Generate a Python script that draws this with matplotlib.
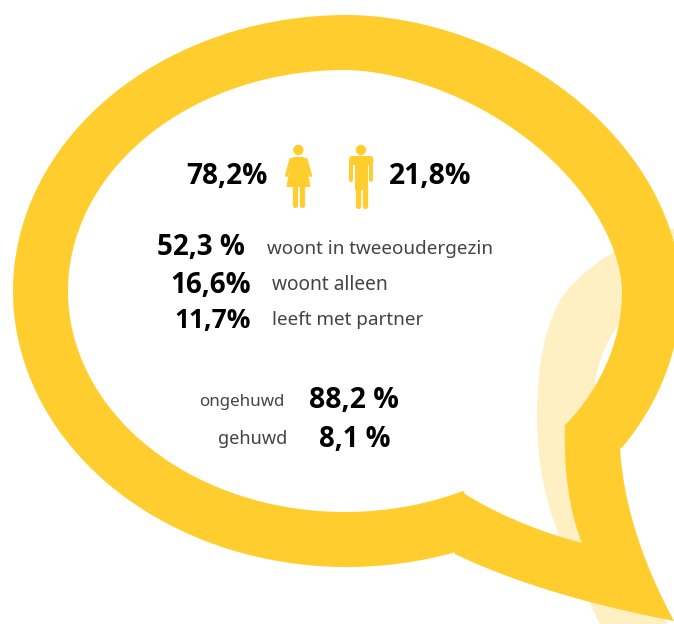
import numpy as np
import matplotlib
matplotlib.use("Agg")
import matplotlib.pyplot as plt
from matplotlib.patches import Polygon, Circle, PathPatch, FancyBboxPatch, Rectangle
from matplotlib.path import Path

# ---- content ----
gender_values = ["78,2%", "21,8%"]
household_values = ["52,3 %", "16,6%", "11,7%"]
household_labels = ["woont in tweeoudergezin", "woont alleen", "leeft met partner"]
marital_labels = ["ongehuwd", "gehuwd"]
marital_values = ["88,2 %", "8,1 %"]

YELLOW = "#FFCE2E"
PALE = "#FFF0C4"
BOLD = dict(family="Open Sans", fontweight="bold", color="black", va="baseline")
LIGHT = dict(family="Noto Sans", color="#444444", va="baseline")


def arc(cx, cy, rx, ry, p_ur, start, end, n=400):
    """Bubble outline from point start, clockwise on screen, to point end.
    The upper right quadrant is slightly flatter (exponent p_ur)."""
    a0 = np.arctan2((start[1] - cy) / ry, (start[0] - cx) / rx) % (2 * np.pi)
    a1 = np.arctan2((end[1] - cy) / ry, (end[0] - cx) / rx) % (2 * np.pi) + 2 * np.pi
    th = np.linspace(a0, a1, n)
    c, s = np.cos(th), np.sin(th)
    p = np.where((c > 0) & (s < 0), p_ur, 2.0)
    x = cx + rx * np.sign(c) * np.abs(c) ** (2 / p)
    y = cy + ry * np.sign(s) * np.abs(s) ** (2 / p)
    return np.column_stack([x, y])


def bez(a, c, b, n=40):
    t = np.linspace(0, 1, n)[:, None]
    a, c, b = map(np.array, (a, c, b))
    return (1 - t) ** 2 * a + 2 * t * (1 - t) * c + t ** 2 * b


outer = np.vstack([arc(347, 291, 334, 276, 1.87, (455, 554), (620, 448)),
                   bez((620, 448), (625, 530), (674, 621)),
                   bez((674, 621), (540, 595), (455, 554))])
inner = np.vstack([arc(345, 291, 277, 221, 1.75, (465, 494), (565, 427)),
                   bez((565, 427), (563, 495), (582, 543)),
                   bez((582, 543), (515, 525), (465, 494))])

# pale shadow of the tail behind the bubble
pale = np.vstack([bez((680, 227), (600, 245), (560, 300)),
                  bez((560, 300), (538, 340), (537, 410)),
                  bez((537, 410), (536, 480), (560, 537)),
                  bez((560, 537), (578, 580), (603, 630)),
                  bez((670, 630), (620, 520), (595, 383)),
                  bez((595, 383), (600, 345), (630, 310))])

fig = plt.figure(figsize=(6.74, 6.24), dpi=100)
ax = fig.add_axes([0, 0, 1, 1])
ax.set_xlim(0, 674)
ax.set_ylim(624, 0)
ax.axis("off")

ax.add_patch(Polygon(pale, closed=True, fc=PALE, ec="none", zorder=1))
ring = Path(np.vstack([outer, outer[0], inner[::-1], inner[-1]]),
            [Path.MOVETO] + [Path.LINETO] * (len(outer) - 1) + [Path.CLOSEPOLY]
            + [Path.MOVETO] + [Path.LINETO] * (len(inner) - 1) + [Path.CLOSEPOLY])
ax.add_patch(PathPatch(ring, fc=YELLOW, ec="none", zorder=2))


def limb(x0, y0, x1, y1, w):
    ax.plot([x0, x1], [y0, y1], color=YELLOW, lw=w * 0.72, solid_capstyle="round", zorder=3)


# woman icon
ax.add_patch(Circle((298.3, 150), 5.2, fc=YELLOW, ec="none", zorder=3))
ax.add_patch(Polygon([(293, 157), (304, 157), (306, 160), (310.5, 187), (286.5, 187), (291, 160)],
                     closed=True, fc=YELLOW, ec="none", zorder=3))
limb(291, 159.5, 286.5, 175.5, 3.2)
limb(306, 159.5, 310.5, 175.5, 3.2)
limb(294.8, 186, 294.8, 205, 5.2)
limb(302, 186, 302, 205, 5.2)

# man icon
ax.add_patch(Circle((361, 150), 5.2, fc=YELLOW, ec="none", zorder=3))
ax.add_patch(FancyBboxPatch((349.3, 156), 24, 9, boxstyle="round,pad=0,rounding_size=3.5",
                            fc=YELLOW, ec="none", zorder=3))
ax.add_patch(Rectangle((355, 158), 13, 32, fc=YELLOW, ec="none", zorder=3))
limb(351.3, 160, 351.3, 180, 4)
limb(371.3, 160, 371.3, 180, 4)
limb(358, 188, 358, 205.5, 5.3)
limb(365, 188, 365, 205.5, 5.3)

# gender
ax.text(186, 183.5, gender_values[0], fontsize=20.2, **BOLD)
ax.text(389, 183.5, gender_values[1], fontsize=20.4, **BOLD)

# household
for val, vx, ha, vs, vy, lab, lx, ly, fs in zip(household_values, [157, 251, 251], ["left", "right", "right"],
                                                [20, 20, 19], [255, 293, 328], household_labels,
                                                [267, 272, 272], [254.5, 289.5, 325], [13.55, 13.8, 13.6]):
    ax.text(vx, vy, val, fontsize=vs, ha=ha, **BOLD)
    ax.text(lx, ly, lab, fontsize=fs, **LIGHT)

# marital status
for lab, lx, ly, ls, val, vx, vy, vs in zip(marital_labels, [284, 287], [406.5, 444], [12.2, 13.1],
                                            marital_values, [309, 319], [408.5, 447], [20.4, 19.8]):
    ax.text(lx, ly, lab, fontsize=ls, ha="right", **LIGHT)
    ax.text(vx, vy, val, fontsize=vs, **BOLD)

fig.savefig("out.png", dpi=100)
